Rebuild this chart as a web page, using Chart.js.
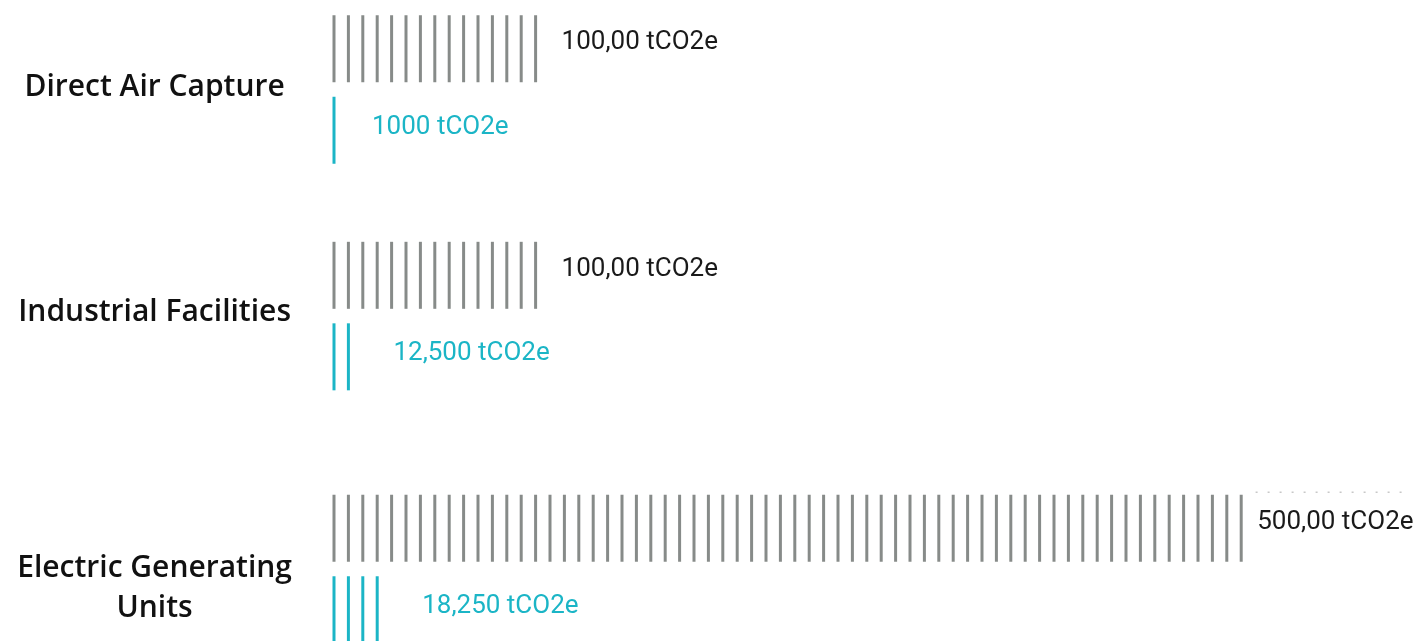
<!DOCTYPE html>
<html>
<head>
<meta charset="utf-8">
<script src="https://cdn.jsdelivr.net/npm/chart.js@4.4.1/dist/chart.umd.min.js"></script>
<style>
  html, body { margin: 0; padding: 0; background: #ffffff; overflow: hidden; }
  #wrap { width: 1421px; height: 641px; position: relative; }
</style>
</head>
<body>
<div id="wrap"><canvas id="c"></canvas></div>
<script>
// ---- data ----
const categories = ['Direct Air Capture', 'Industrial Facilities', ['Electric Generating', 'Units']];
const grayCounts = [15, 15, 64];          // grey stripes per row
const grayCapacity = [15, 15, 75];        // dotted continuation up to this slot count
const tealCounts = [1, 2, 4];             // teal stripes per row
const grayLabels = ['100,00 tCO2e', '100,00 tCO2e', '500,00 tCO2e'];
const tealLabels = ['1000 tCO2e', '12,500 tCO2e', '18,250 tCO2e'];

// ---- layout constants ----
const rowPos = [0, 0.945, 2];             // row centres on the y scale
const labelPos = [-0.01, 0.93, 2.08];     // category label positions on the y scale
const half = 0.17;                        // offset of grey/teal rows from row centre
const grayGap = [26, 26, 16];
const tealGap = [38, 45, 45];
const GRAY = '#878b89';
const TEAL = '#1bb5c6';

function stripes(count, y) {
  const pts = [];
  for (let i = 0; i < count; i++) pts.push({ x: i, y: y });
  return pts;
}

const datasets = [];
categories.forEach((c, r) => {
  datasets.push({
    data: stripes(grayCounts[r], rowPos[r] - half),
    pointStyle: 'line', rotation: 90, radius: 33.5,
    borderColor: GRAY, backgroundColor: GRAY, borderWidth: 3, showLine: false
  });
  datasets.push({
    data: stripes(tealCounts[r], rowPos[r] + half),
    pointStyle: 'line', rotation: 90, radius: 33.5,
    borderColor: TEAL, backgroundColor: TEAL, borderWidth: 3, showLine: false
  });
  if (grayCapacity[r] > grayCounts[r]) {
    datasets.push({
      type: 'line',
      data: [{ x: grayCounts[r], y: rowPos[r] - half - 0.15 }, { x: grayCapacity[r] - 0.8, y: rowPos[r] - half - 0.15 }],
      borderColor: '#c8c8c8', borderWidth: 1.5, borderDash: [2, 10], pointRadius: 0, showLine: true
    });
  }
});

const valueLabels = {
  id: 'valueLabels',
  afterDatasetsDraw(chart) {
    const ctx = chart.ctx, xs = chart.scales.x, ys = chart.scales.y;
    ctx.save();
    ctx.font = '26px Roboto';
    ctx.textAlign = 'left';
    ctx.textBaseline = 'middle';
    categories.forEach((c, r) => {
      ctx.fillStyle = '#1a1a1a';
      ctx.fillText(grayLabels[r], xs.getPixelForValue(grayCounts[r] - 1) + grayGap[r], ys.getPixelForValue(rowPos[r] - half) - 6);
      ctx.fillStyle = TEAL;
      ctx.fillText(tealLabels[r], xs.getPixelForValue(tealCounts[r] - 1) + tealGap[r], ys.getPixelForValue(rowPos[r] + half) - 3);
    });
    ctx.restore();
  }
};

new Chart(document.getElementById('c'), {
  type: 'scatter',
  data: { datasets },
  options: {
    responsive: true,
    maintainAspectRatio: false,
    animation: false,
    events: [],
    layout: { padding: 0, autoPadding: false },
    plugins: { legend: { display: false }, tooltip: { enabled: false } },
    scales: {
      x: {
        type: 'linear', min: -1.6667, max: 75.486, display: false
      },
      y: {
        type: 'linear', reverse: true, min: -0.3733, max: 2.3003,
        border: { display: false },
        grid: { display: false, drawTicks: false },
        afterBuildTicks(scale) { scale.ticks = labelPos.map(v => ({ value: v })); },
        afterFit(scale) { scale.width = 310; scale.paddingTop = 0; scale.paddingBottom = 0; },
        ticks: {
          padding: 18,
          crossAlign: 'center',
          color: '#111111',
          font: { family: '"Open Sans"', size: 30, weight: '600', lineHeight: 1.33 },
          callback(value, index) { return categories[index]; }
        }
      }
    }
  },
  plugins: [valueLabels]
});
</script>
</body>
</html>
